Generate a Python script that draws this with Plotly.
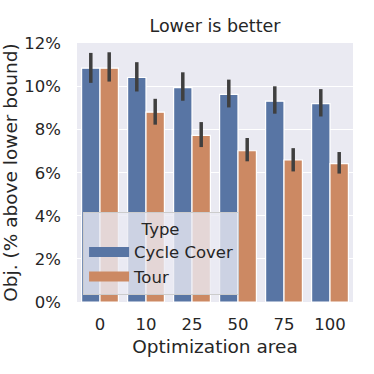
import plotly.graph_objects as go

areas = ["0", "10", "25", "50", "75", "100"]
cycle_cover = [10.85, 10.42, 9.95, 9.64, 9.32, 9.21]
cycle_cover_hi = [11.56, 11.13, 10.66, 10.32, 10.01, 9.88]
cycle_cover_lo = [10.17, 9.77, 9.34, 9.03, 8.74, 8.61]
tour = [10.85, 8.81, 7.73, 7.02, 6.59, 6.42]
tour_hi = [11.59, 9.43, 8.35, 7.61, 7.14, 6.96]
tour_lo = [10.23, 8.23, 7.19, 6.53, 6.06, 5.96]
y_ticks = [0, 2, 4, 6, 8, 10, 12]

FONT = "DejaVu Sans"
TXT = "#262626"
BLUE = "#5875a4"
ORANGE = "#cc8963"


def err(vals, hi, lo):
    return dict(type="data", symmetric=False,
                array=[h - v for h, v in zip(hi, vals)],
                arrayminus=[v - l for v, l in zip(vals, lo)],
                color="#3f3f3f", thickness=3.5, width=0)


fig = go.Figure()
fig.add_trace(go.Bar(x=areas, y=cycle_cover, name="Cycle Cover", showlegend=False,
                     marker=dict(color=BLUE, line=dict(color="white", width=1.2)),
                     error_y=err(cycle_cover, cycle_cover_hi, cycle_cover_lo)))
fig.add_trace(go.Bar(x=areas, y=tour, name="Tour", showlegend=False,
                     marker=dict(color=ORANGE, line=dict(color="white", width=1.2)),
                     error_y=err(tour, tour_hi, tour_lo)))
# legend entries (wide swatches like the reference)
for name, col in [("Cycle Cover", BLUE), ("Tour", ORANGE)]:
    fig.add_trace(go.Scatter(x=[None], y=[None], mode="lines", name=name,
                             line=dict(color=col, width=11)))

fig.update_layout(
    width=374, height=374,
    margin=dict(l=77, r=21, t=43, b=72, autoexpand=False),
    paper_bgcolor="white", plot_bgcolor="#eaeaf2",
    barmode="group", bargap=0.2, bargroupgap=0,
    font=dict(family=FONT, color=TXT, size=16),
    title=dict(text="Lower is better", x=0.5, xanchor="center", xref="paper",
               y=1 - 26 / 374, yref="container", yanchor="middle",
               font=dict(family=FONT, size=17.5, color=TXT)),
    xaxis=dict(title=dict(text="Optimization area", font=dict(size=18.5), standoff=7),
               showgrid=False, ticks="", tickfont=dict(size=16.5), automargin=False,
               ticklabelstandoff=10),
    yaxis=dict(title=dict(text="Obj. (% above lower bound)", font=dict(size=18.5), standoff=5),
               range=[0, 12.02], tickvals=y_ticks, ticktext=[f"{t}%" for t in y_ticks],
               gridcolor="white", gridwidth=1.2, zeroline=False, ticks="",
               tickfont=dict(size=16.5), automargin=False, ticklabelstandoff=15),
    legend=dict(x=0.022, y=0.026, xanchor="left", yanchor="bottom",
                bgcolor="rgba(234,234,242,0.8)", bordercolor="#cccccc", borderwidth=1,
                title=dict(text="Type", side="top center", font=dict(size=16.5)),
                font=dict(size=16.5), itemwidth=40, tracegroupgap=0),
    showlegend=True,
)

fig.write_html("out.html", config={"displayModeBar": False},
               post_script="document.body.style.margin='0';document.body.style.overflow='hidden';")
